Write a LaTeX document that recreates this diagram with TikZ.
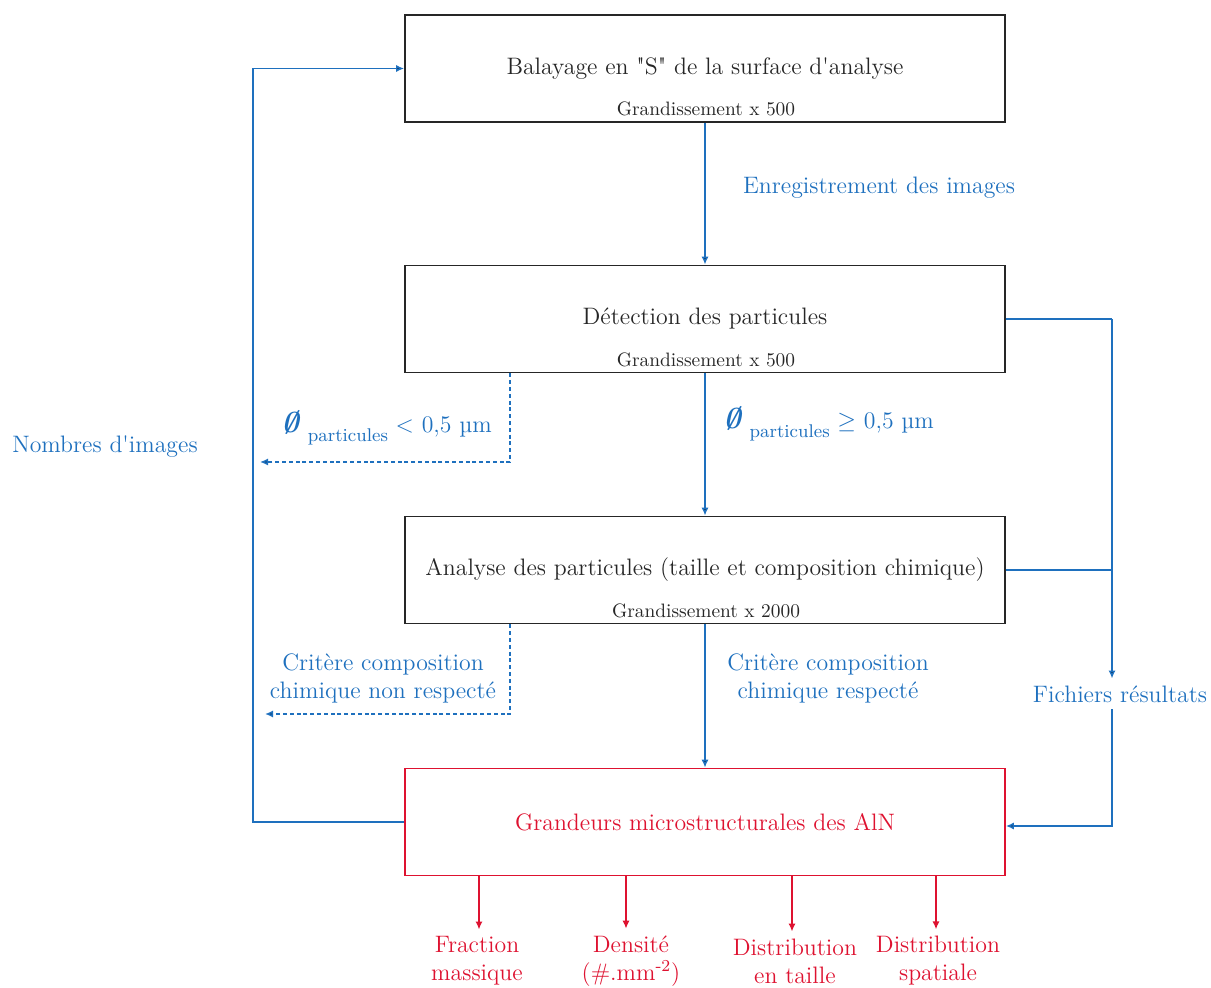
\documentclass[tikz,border=0pt]{standalone}
\usepackage{fontspec}
\usetikzlibrary{arrows.meta}
\definecolor{fblue}{RGB}{30,112,190}
\definecolor{fred}{RGB}{222,18,48}
\newcommand{\partsub}{\raisebox{-0.8ex}{\fontsize{9.2}{10}\selectfont particules}}
\newcommand{\diam}{\tikz[baseline=(dd.base)]\node[inner sep=0pt, xslant=0.22, font=\Large\boldmath] (dd) {$\emptyset$};}
\newcommand{\dq}{\XeTeXglyph\XeTeXglyphindex "quotedbl" \relax}
\newcommand{\sq}{\XeTeXglyph\XeTeXglyphindex "quotesingle" \relax}
\begin{document}
\begin{tikzpicture}[x=0.5pt,y=-0.5pt,
  font=\fontsize{11.9}{14}\selectfont,
  box/.style={draw=black!85, line width=0.9pt, minimum width=300pt, minimum height=53.5pt, inner sep=0pt, text=black!85},
  redbox/.style={box, draw=fred, text=fred},
  small/.style={font=\fontsize{9.7}{11}\selectfont, inner sep=0pt, anchor=base, text=black!85},
  bline/.style={draw=fblue, line width=0.9pt},
  barrow/.style={bline, -{Latex[length=4pt,width=3.6pt]}},
  darrow/.style={barrow, dash pattern=on 2pt off 1.4pt},
  rarrow/.style={draw=fred, line width=0.9pt, -{Latex[length=4pt,width=3.6pt]}},
  blab/.style={text=fblue, align=center},
  rlab/.style={text=fred, align=center},
]
\path[use as bounding box] (0,0) rectangle (1211,988);

\node[box] (b1) at (705,68.5) {Balayage en \dq S\dq{} de la surface d\sq analyse};
\node[small] (g1) at (706,116) {Grandissement x 500};
\node[box] (b2) at (705,319) {Détection des particules};
\node[small] (g2) at (706,367) {Grandissement x 500};
\node[box] (b3) at (705,570) {Analyse des particules (taille et composition chimique)};
\node[small] (g3) at (706,618) {Grandissement x 2000};
\node[redbox] (b4) at (705,822) {Grandeurs microstructurales des AlN};

% labels
\node[blab, anchor=west] (enr) at (736,188) {Enregistrement des images};
\node[blab, anchor=west] (ge) at (717,424) {\diam\,\partsub\ $\geq$ 0,5 µm};
\node[blab] (lt) at (387,428) {\diam\,\partsub\ $<$ 0,5 µm};
\node[blab] (nr) at (383,678) {Critère composition\\chimique non respecté};
\node[blab] (re) at (828,678) {Critère composition\\chimique respecté};
\node[blab] (nb) at (105,447) {Nombres d\sq images};
\node[blab] (fi) at (1120,694) {Fichiers résultats};

\coordinate (d1) at (260,462);
\coordinate (d2) at (265,714);
\coordinate (L) at (253,68.5);
\coordinate (R) at (1112,319);

% main flow
\draw[barrow] (b1) -- (b2);
\draw[barrow] (b2) -- (b3);
\draw[barrow] (b3) -- (b4);

% dashed rejections
\draw[darrow] ([xshift=53pt]b2.south west) |- (d1);
\draw[darrow] ([xshift=53pt]b3.south west) |- (d2);

% feedback loop
\draw[barrow] (b4.west) -| (L) -- (b1.west);

% results files
\draw[bline] (b2.east) -- (R);
\draw[bline] (b3.east) -- (b3.east -| R);
\draw[barrow] (R) -- (R |- fi.north);
\draw[barrow] (fi.south -| R) |- ([yshift=-2pt]b4.east);

% outputs
\node[rlab] (o1) at (477,961) {Fraction\\massique};
\node[rlab] (o2) at (631,961) {Densité\\(\#.mm\textsuperscript{-2})};
\node[rlab] (o3) at (795,961) {Distribution\\en taille};
\node[rlab] (o4) at (938,961) {Distribution\\spatiale};
\foreach \n/\x in {o1/479,o2/626,o3/792,o4/936}
  \draw[rarrow] (b4.south -| \x,0) -- (\n.north -| \x,0);
\end{tikzpicture}
\end{document}
